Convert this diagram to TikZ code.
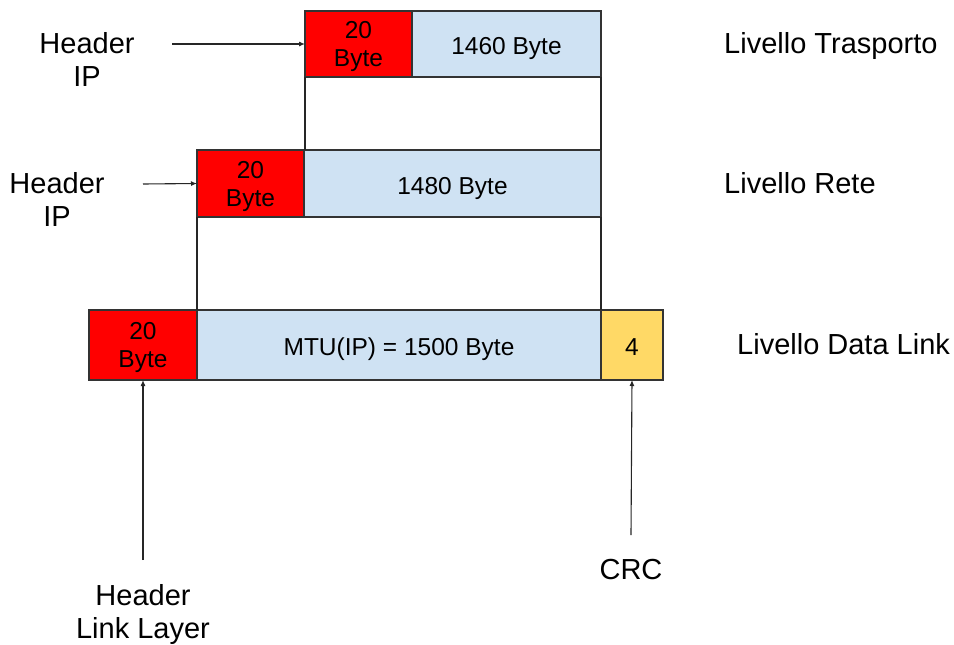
\documentclass[tikz,border=0pt]{standalone}
\usepackage{fontspec}
\setmainfont{Liberation Sans}
\usetikzlibrary{arrows.meta}
\definecolor{hdrred}{HTML}{FF0000}
\definecolor{payblue}{HTML}{CFE2F3}
\definecolor{crcyellow}{HTML}{FFD966}

\begin{document}
\begin{tikzpicture}[
  x=1pt,y=-1pt,
  font=\fontsize{29}{33}\selectfont,
  cell/.style={draw=black!80,line width=1.2pt,inner sep=0pt,outer sep=0pt,
               anchor=north west,align=center,font=\fontsize{24.5}{28}\selectfont},
  hdr/.style={cell,fill=hdrred,text depth=0pt},
  pay/.style={cell,fill=payblue,text height=21pt,text depth=0pt},
  crc/.style={cell,fill=crcyellow,text height=21pt,text depth=0pt},
  lbl/.style={align=center,inner sep=0pt},
  layer/.style={anchor=base west,inner sep=0pt},
  link/.style={line width=1.2pt,draw=black!85},
  arr/.style={-{Latex[length=6pt,width=5pt]},line width=1.1pt,draw=black!85}
]
\useasboundingbox (0,0) rectangle (954,645);

% transport layer
\node[hdr,minimum width=107pt,minimum height=66pt] (hdrT) at (305,11) {20\\Byte};
\node[pay,minimum width=189pt,minimum height=66pt] (payT) at (hdrT.north east) {1460 Byte};
\node[layer] (lvT) at (724,53) {Livello Trasporto};

% network layer
\node[hdr,minimum width=107pt,minimum height=67pt] (hdrR) at (197,150) {20\\Byte};
\node[pay,minimum width=297pt,minimum height=67pt] (payR) at (hdrR.north east) {1480 Byte};
\node[layer] (lvR) at (724,193) {Livello Rete};

% data link layer
\node[hdr,minimum width=108pt,minimum height=70pt] (hdrL) at (89,310) {20\\Byte};
\node[pay,minimum width=404pt,minimum height=70pt] (payL) at (hdrL.north east) {MTU(IP) = 1500 Byte};
\node[crc,minimum width=62pt,minimum height=70pt] (crcL) at (payL.north east) {4};
\node[layer] (lvL) at (737,354) {Livello Data Link};

% encapsulation guides
\draw[link] (hdrT.south west) -- (hdrT.south west |- payR.north);
\draw[link] (payT.south east) -- (payT.south east |- payR.north);
\draw[link] (hdrR.south west) -- (hdrR.south west |- payL.north);
\draw[link] (payR.south east) -- (payR.south east |- payL.north);

% header labels
\node[lbl] (ipT) at (87,59) {Header\\IP};
\coordinate (ipTs) at (172,44);
\draw[arr] (ipTs) -- (hdrT.west);

\node[lbl] (ipR) at (57,199) {Header\\IP};
\coordinate (ipRs) at (143,184);
\draw[arr] (ipRs) -- (hdrR.west);

\node[lbl] (hll) at (143,614) {Header\\Link Layer};
\coordinate (hlls) at (143,560);
\draw[arr] (hlls) -- (hdrL.south);

\node[lbl] (crc) at (631,570) {CRC};
\coordinate (crcs) at (631,535);
\draw[arr] (crcs) -- (crcL.south);
\end{tikzpicture}
\end{document}
